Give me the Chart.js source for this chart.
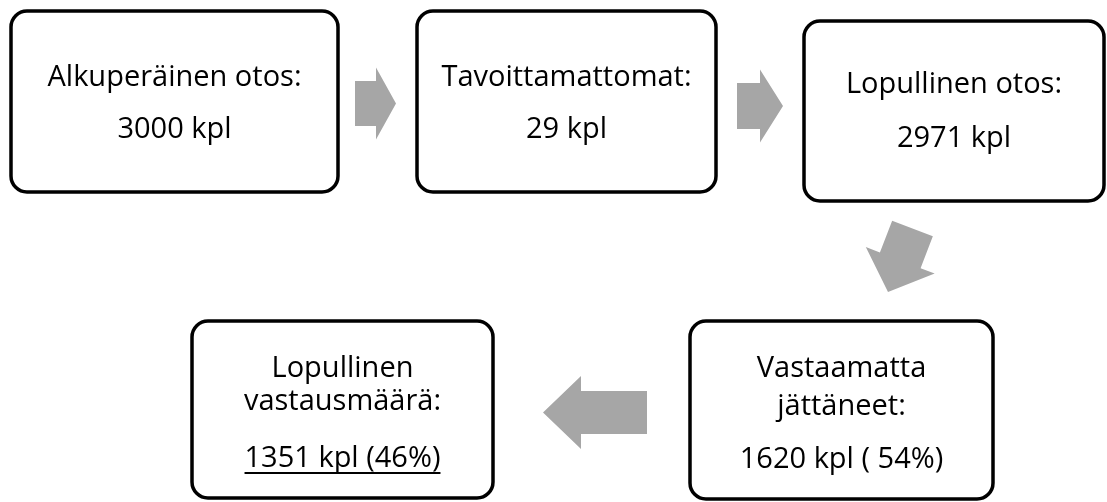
<!DOCTYPE html>
<html>
<head>
<meta charset="utf-8">
<script src="https://cdn.jsdelivr.net/npm/chart.js@4.4.0/dist/chart.umd.min.js"></script>
<style>
  html, body { margin: 0; padding: 0; background: #fff; }
  #wrap { width: 1107px; height: 502px; position: relative; }
</style>
</head>
<body>
<div id="wrap"><canvas id="flowChart"></canvas></div>
<script>
// Vaiheet ja luvut
const stepTitles = [
    ['Alkuperäinen otos:'],
    ['Tavoittamattomat:'],
    ['Lopullinen otos:'],
    ['Vastaamatta', 'jättäneet:'],
    ['Lopullinen', 'vastausmäärä:']
];
const stepCounts = [3000, 29, 2971, 1620, 1351];
const countLabels = ['3000 kpl', '29 kpl', '2971 kpl', '1620 kpl ( 54%)', '1351 kpl (46%)'];
const underlined = [false, false, false, false, true];

// Asettelu (akselin yksiköissä, 0..1107 x 0..502)
const boxLayout = [
    { x0: 11, x1: 338, y0: 11, y1: 192, lines: [86, 138] },
    { x0: 417, x1: 716, y0: 11, y1: 192, lines: [86, 138] },
    { x0: 804, x1: 1104, y0: 21, y1: 201, lines: [93, 147] },
    { x0: 690, x1: 993, y0: 321, y1: 499, lines: [377, 415, 468] },
    { x0: 192, x1: 493, y0: 321, y1: 498, lines: [377, 410, 467] }
];

// Nuolet: häntä, kärki, varren puolileveys, kärjen puolileveys, kärjen pituus
const arrowLayout = [
    { tail: [355, 103.5], tip: [396, 103.5], shaft: 22.5, head: 36, headLen: 20 },
    { tail: [737, 106], tip: [783, 106], shaft: 23, head: 36.5, headLen: 23 },
    { tail: [912.5, 228.5], tip: [888, 292], shaft: 21.8, head: 36.9, headLen: 34 },
    { tail: [647, 412.5], tip: [543, 412.5], shaft: 21.5, head: 36.5, headLen: 38 }
];

const FONT = '"Open Sans", "Noto Sans", sans-serif';

const flowPlugin = {
    id: 'flowPlugin',
    afterDatasetsDraw(chart) {
        const ctx = chart.ctx;
        const sx = chart.scales.x;
        const sy = chart.scales.y;
        const px = v => sx.getPixelForValue(v);
        const py = v => sy.getPixelForValue(v);

        // nuolet
        ctx.save();
        ctx.fillStyle = '#a6a6a6';
        arrowLayout.forEach(a => {
            const dx = a.tip[0] - a.tail[0];
            const dy = a.tip[1] - a.tail[1];
            const len = Math.hypot(dx, dy);
            const ux = dx / len, uy = dy / len;
            const nx = -uy, ny = ux;
            const bx = a.tip[0] - ux * a.headLen;
            const by = a.tip[1] - uy * a.headLen;
            const pts = [
                [a.tail[0] + nx * a.shaft, a.tail[1] + ny * a.shaft],
                [bx + nx * a.shaft, by + ny * a.shaft],
                [bx + nx * a.head, by + ny * a.head],
                [a.tip[0], a.tip[1]],
                [bx - nx * a.head, by - ny * a.head],
                [bx - nx * a.shaft, by - ny * a.shaft],
                [a.tail[0] - nx * a.shaft, a.tail[1] - ny * a.shaft]
            ];
            ctx.beginPath();
            pts.forEach((p, i) => {
                if (i === 0) ctx.moveTo(px(p[0]), py(p[1]));
                else ctx.lineTo(px(p[0]), py(p[1]));
            });
            ctx.closePath();
            ctx.fill();
        });
        ctx.restore();

        // laatikot ja tekstit
        ctx.save();
        boxLayout.forEach((b, i) => {
            const x0 = px(b.x0), x1 = px(b.x1);
            const y0 = py(b.y0), y1 = py(b.y1);
            ctx.beginPath();
            ctx.roundRect(x0, y0, x1 - x0, y1 - y0, 16);
            ctx.fillStyle = '#ffffff';
            ctx.fill();
            ctx.lineWidth = 3.5;
            ctx.strokeStyle = '#000000';
            ctx.stroke();

            const cx = (x0 + x1) / 2;
            const lines = stepTitles[i].concat([countLabels[i]]);
            ctx.font = '29px ' + FONT;
            ctx.fillStyle = '#000000';
            ctx.textAlign = 'center';
            ctx.textBaseline = 'alphabetic';
            lines.forEach((t, j) => {
                const y = py(b.lines[j]);
                ctx.fillText(t, cx, y);
                if (j === lines.length - 1 && underlined[i]) {
                    const w = ctx.measureText(t).width;
                    ctx.beginPath();
                    ctx.lineWidth = 1.8;
                    ctx.strokeStyle = '#000000';
                    ctx.moveTo(cx - w / 2, y + 6);
                    ctx.lineTo(cx + w / 2, y + 6);
                    ctx.stroke();
                }
            });
        });
        ctx.restore();
    }
};

const nodePoints = boxLayout.map((b, i) => ({
    x: (b.x0 + b.x1) / 2,
    y: (b.y0 + b.y1) / 2,
    count: stepCounts[i]
}));

new Chart(document.getElementById('flowChart'), {
    type: 'scatter',
    data: {
        datasets: [{
            label: 'Vaiheet',
            data: nodePoints,
            pointRadius: 0
        }]
    },
    options: {
        responsive: true,
        maintainAspectRatio: false,
        animation: false,
        layout: { padding: 0 },
        scales: {
            x: { type: 'linear', min: 0, max: 1107, display: false },
            y: { type: 'linear', min: 0, max: 502, reverse: true, display: false }
        },
        plugins: {
            legend: { display: false },
            tooltip: { enabled: false }
        }
    },
    plugins: [flowPlugin]
});
</script>
</body>
</html>
